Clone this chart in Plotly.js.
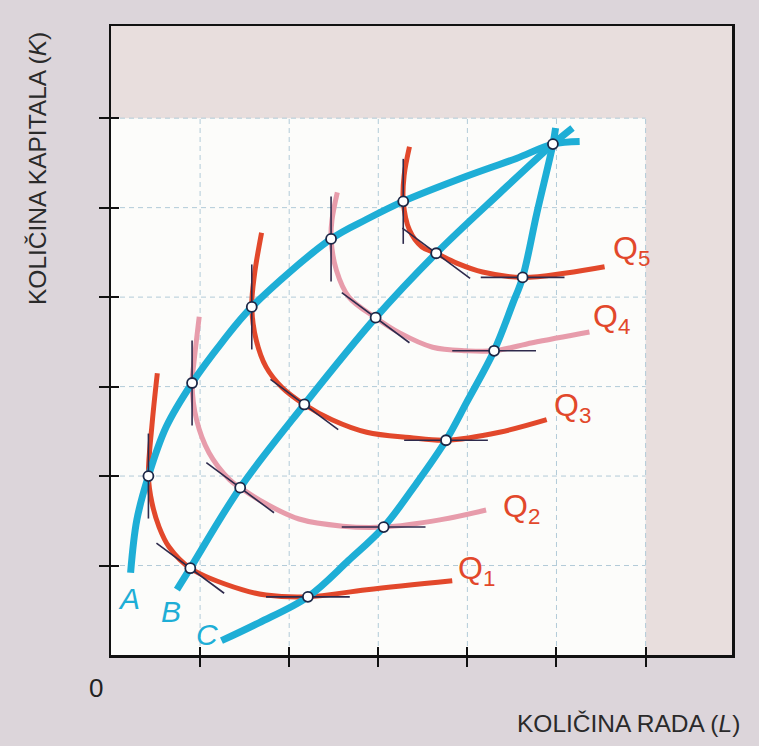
<!DOCTYPE html>
<html>
<head>
<meta charset="utf-8">
<script src="https://cdn.plot.ly/plotly-3.0.1.min.js"></script>
<style>html,body{margin:0;padding:0;background:#dcd5da;}#chart{width:759px;height:746px;}</style>
</head>
<body>
<div id="chart"></div>
<script>
// ---- Data (axis units: one grid square = 1) ----
const xTicks = [1, 2, 3, 4, 5, 6];
const yTicks = [1, 2, 3, 4, 5, 6];

// Expansion paths (blue)
const pathNames = ['A', 'B', 'C'];
const pathAx = [0.22, 0.29, 0.42, 0.62, 0.91, 1.25, 1.58, 2.47, 2.87, 3.28, 3.99, 4.55, 4.96, 5.26];
const pathAy = [0.92, 1.51, 2.00, 2.55, 3.04, 3.50, 3.89, 4.65, 4.87, 5.07, 5.35, 5.55, 5.71, 5.74];
const pathBx = [0.74, 0.89, 1.45, 2.17, 2.97, 3.65, 4.36, 4.96, 5.18];
const pathBy = [0.73, 0.97, 1.87, 2.80, 3.77, 4.49, 5.16, 5.71, 5.89];
const pathCx = [1.24, 1.66, 2.21, 2.67, 3.06, 3.43, 3.76, 3.99, 4.30, 4.51, 4.62, 4.78, 4.96, 4.99];
const pathCy = [0.16, 0.36, 0.65, 1.06, 1.43, 1.92, 2.40, 2.82, 3.40, 3.93, 4.22, 4.94, 5.71, 5.89];

// Isoquants Q1..Q5
const qNames = ['Q<sub>1</sub>', 'Q<sub>2</sub>', 'Q<sub>3</sub>', 'Q<sub>4</sub>', 'Q<sub>5</sub>'];
const q1x = [0.52, 0.46, 0.42, 0.46, 0.54, 0.65, 0.89, 1.47, 1.74, 2.21, 2.87, 3.83];
const q1y = [3.15, 2.57, 2.00, 1.70, 1.43, 1.21, 0.97, 0.73, 0.67, 0.65, 0.73, 0.83];
const q2x = [0.99, 0.93, 0.91, 0.96, 1.10, 1.33, 1.45, 1.74, 2.11, 2.60, 3.06, 3.69, 4.21];
const q2y = [3.78, 3.26, 3.04, 2.63, 2.26, 1.96, 1.87, 1.69, 1.52, 1.44, 1.43, 1.51, 1.62];
const q3x = [1.69, 1.61, 1.58, 1.63, 1.74, 1.92, 2.17, 2.48, 2.87, 3.35, 3.76, 4.36, 4.89];
const q3y = [4.72, 4.25, 3.89, 3.52, 3.22, 2.99, 2.80, 2.63, 2.49, 2.43, 2.40, 2.49, 2.63];
const q4x = [2.54, 2.48, 2.47, 2.53, 2.67, 2.97, 3.24, 3.61, 3.99, 4.30, 4.73, 5.37];
const q4y = [5.17, 4.86, 4.65, 4.30, 4.00, 3.77, 3.60, 3.44, 3.40, 3.40, 3.49, 3.61];
const q5x = [3.35, 3.29, 3.28, 3.35, 3.49, 3.65, 3.88, 4.17, 4.62, 5.11, 5.54];
const q5y = [5.68, 5.36, 5.07, 4.75, 4.56, 4.49, 4.38, 4.28, 4.22, 4.27, 4.34];

// Tangency points of each isoquant with paths A, B, C
const tanAx = [0.42, 0.91, 1.58, 2.47, 3.28];
const tanAy = [2.00, 3.04, 3.89, 4.65, 5.07];
const tanBx = [0.89, 1.45, 2.17, 2.97, 3.65];
const tanBy = [0.97, 1.87, 2.80, 3.77, 4.49];
const tanCx = [2.21, 3.06, 3.76, 4.30, 4.62];
const tanCy = [0.65, 1.43, 2.40, 3.40, 4.22];
// Common point where paths meet
const apexX = [4.96];
const apexY = [5.71];

// ---- Styles ----
const BLUE = '#1eaed6', RED = '#e2482b', PINK = '#e79cab', DARK = '#2e2a4c';
const FONT = 'Liberation Sans, Arial, Helvetica, sans-serif';
const qColors = [RED, PINK, RED, PINK, RED];
const VH = 0.475, DX = 0.38, DY = 0.28, HH = 0.47;   // tangent segment half-sizes

const qx = [q1x, q2x, q3x, q4x, q5x];
const qy = [q1y, q2y, q3y, q4y, q5y];
const px = [pathAx, pathBx, pathCx];
const py = [pathAy, pathBy, pathCy];

const traces = [];
// isoquants
qx.forEach((xs, i) => traces.push({
  x: xs, y: qy[i], mode: 'lines', type: 'scatter', hoverinfo: 'skip',
  line: {color: qColors[i], width: 5, shape: 'spline', smoothing: 1}
}));
// expansion paths
px.forEach((xs, i) => traces.push({
  x: xs, y: py[i], mode: 'lines', type: 'scatter', hoverinfo: 'skip',
  line: {color: BLUE, width: 7, shape: 'spline', smoothing: 1}
}));
// tangent lines
const tx = [], ty = [];
tanAx.forEach((x, i) => { tx.push(x, x, null); ty.push(tanAy[i] - VH, tanAy[i] + VH, null); });
tanBx.forEach((x, i) => { tx.push(x - DX, x + DX, null); ty.push(tanBy[i] + DY, tanBy[i] - DY, null); });
tanCx.forEach((x, i) => { tx.push(x - HH, x + HH, null); ty.push(tanCy[i], tanCy[i], null); });
traces.push({x: tx, y: ty, mode: 'lines', type: 'scatter', hoverinfo: 'skip',
  line: {color: DARK, width: 1.6}});
// markers
traces.push({
  x: tanAx.concat(tanBx, tanCx, apexX), y: tanAy.concat(tanBy, tanCy, apexY),
  mode: 'markers', type: 'scatter', hoverinfo: 'skip',
  marker: {size: 10, color: '#ffffff', line: {color: '#1c2746', width: 1.8}}
});
// carrier for crossing ticks (inside part)
traces.push({x: [xTicks[0]], y: [yTicks[0]], xaxis: 'x2', yaxis: 'y2', mode: 'none', type: 'scatter', hoverinfo: 'skip'});

const XR = [0, 6.97], YR = [0, 7.03];
const xMax = xTicks[xTicks.length - 1], yMax = yTicks[yTicks.length - 1];

const shapes = [{type: 'rect', xref: 'x', yref: 'y', x0: 0, y0: 0, x1: xMax, y1: yMax,
  fillcolor: '#fcfcfa', line: {width: 0}, layer: 'below'}];
xTicks.forEach(t => shapes.push({type: 'line', xref: 'x', yref: 'y', x0: t, x1: t, y0: 0, y1: yMax,
  line: {color: '#b2cbd8', width: 1, dash: '5px,4px'}, layer: 'below'}));
yTicks.forEach(t => shapes.push({type: 'line', xref: 'x', yref: 'y', y0: t, y1: t, x0: 0, x1: xMax,
  line: {color: '#b2cbd8', width: 1, dash: '5px,4px'}, layer: 'below'}));

const annotations = [];
const pathLabelShift = [[-2, -26], [-6, -22], [-14, 6]];
pathNames.forEach((n, i) => annotations.push({
  x: px[i][0], y: py[i][0], xref: 'x', yref: 'y', text: '<i>' + n + '</i>', showarrow: false,
  xanchor: 'center', yanchor: 'middle',
  xshift: pathLabelShift[i][0], yshift: pathLabelShift[i][1],
  font: {family: FONT, size: 30, color: BLUE}
}));
const qLabelShift = [[4, 10], [15, 2], [5, 12], [2, 14], [6, 16]];
qNames.forEach((n, i) => annotations.push({
  x: qx[i][qx[i].length - 1], y: qy[i][qy[i].length - 1], xref: 'x', yref: 'y', text: n,
  showarrow: false, xanchor: 'left', yanchor: 'middle',
  xshift: qLabelShift[i][0], yshift: qLabelShift[i][1],
  font: {family: FONT, size: 32, color: RED}
}));
annotations.push({x: 0, y: 0, xref: 'x', yref: 'y', text: '0', showarrow: false,
  xanchor: 'center', yanchor: 'middle',
  xshift: -15, yshift: -33, font: {family: FONT, size: 26, color: '#222'}});
annotations.push({x: 37, y: 169, xref: 'paper', yref: 'paper', text: 'KOLIČINA KAPITALA (<i>K</i>)',
  xanchor: 'center', yanchor: 'middle',
  showarrow: false, textangle: -90, font: {family: FONT, size: 24.5, color: '#2a2a2a'}});
annotations.push({x: 628, y: 723, xref: 'paper', yref: 'paper', text: 'KOLIČINA RADA (<i>L</i>)',
  xanchor: 'center', yanchor: 'middle',
  showarrow: false, font: {family: FONT, size: 24.5, color: '#2a2a2a'}});

// convert pixel-placed title annotations to paper coords
const M = {l: 111, r: 27, t: 26, b: 91};
const W = 759, H = 746, pw = W - M.l - M.r, ph = H - M.t - M.b;
annotations.forEach(a => { if (a.xref === 'paper') { a.x = (a.x - M.l) / pw; a.y = (H - M.b - a.y) / ph; } });

const axisBase = {range: null, showgrid: false, zeroline: false, showticklabels: false, fixedrange: true};
const layout = {
  width: W, height: H, margin: M, showlegend: false,
  paper_bgcolor: '#dcd5da', plot_bgcolor: '#e8dedd',
  xaxis: Object.assign({}, axisBase, {range: XR, tickvals: xTicks, ticks: 'outside', ticklen: 9,
    tickwidth: 2, tickcolor: '#111', showline: true, mirror: true, linecolor: '#111', linewidth: 2.5}),
  yaxis: Object.assign({}, axisBase, {range: YR, tickvals: yTicks, ticks: 'outside', ticklen: 10,
    tickwidth: 2, tickcolor: '#111', showline: true, mirror: true, linecolor: '#111', linewidth: 2.5}),
  xaxis2: Object.assign({}, axisBase, {range: XR, tickvals: xTicks, ticks: 'inside', ticklen: 8,
    tickwidth: 2, tickcolor: '#111', overlaying: 'x', side: 'bottom', showline: false}),
  yaxis2: Object.assign({}, axisBase, {range: YR, tickvals: yTicks, ticks: 'inside', ticklen: 8,
    tickwidth: 2, tickcolor: '#111', overlaying: 'y', side: 'left', showline: false}),
  shapes: shapes, annotations: annotations
};
Plotly.newPlot('chart', traces, layout, {staticPlot: true, displayModeBar: false});
</script>
</body>
</html>
